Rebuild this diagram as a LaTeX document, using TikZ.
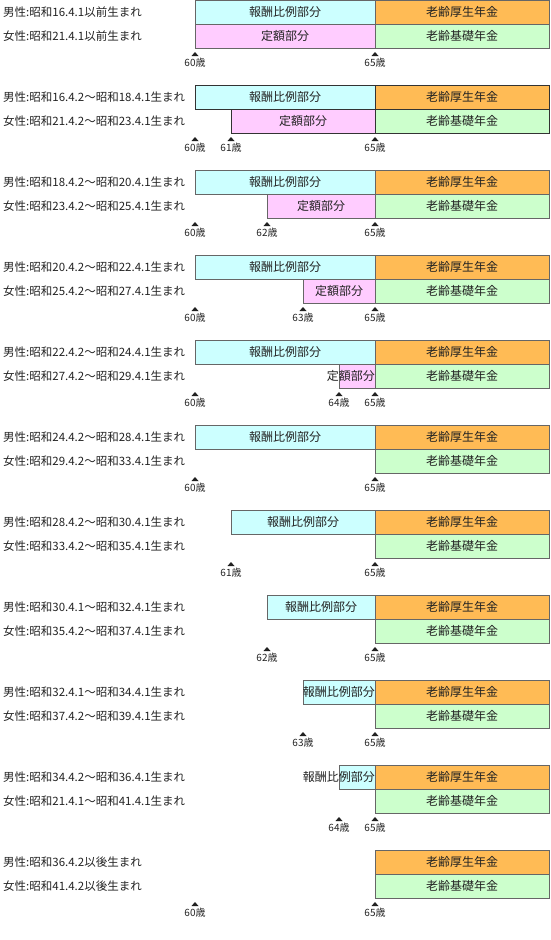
\documentclass[tikz,border=0pt]{standalone}
\usepackage{fontspec}
\setmainfont{Noto Sans CJK JP}
\definecolor{hoshu}{HTML}{CCFFFF}
\definecolor{teigaku}{HTML}{FFCCFF}
\definecolor{kosei}{HTML}{FFBB55}
\definecolor{kiso}{HTML}{CCFFCC}
\definecolor{bordg}{HTML}{666666}
\definecolor{bordd}{HTML}{333333}
\definecolor{txt}{HTML}{222222}
\def\bc{bordg}
\tikzset{
  box/.style={draw=\bc, line width=1pt, minimum height=24pt, inner sep=0pt, outer sep=0pt, anchor=north west},
  btext/.style={font=\fontsize{12}{14}\selectfont, text=txt, inner sep=0pt},
  side/.style={font=\fontsize{11.5}{14}\selectfont, text=txt, inner sep=0pt, anchor=west},
  age/.style={font=\fontsize{10}{12}\selectfont, text=txt, inner sep=0pt},
}
% group: index, male text, female text
\newcommand\grp[3]{%
  \pgfmathsetmacro\gT{85*#1}%
  \node[side] (m#1) at (3,{\gT+12}) {#2};
  \node[side] (f#1) at (3,{\gT+36}) {#3};
  \node[box, fill=kosei, minimum width=174pt] (k#1) at (375,\gT) {};
  \node[btext] (kt#1) at (k#1.center) {老齢厚生年金};
  \node[box, fill=kiso, minimum width=174pt] (b#1) at (375,{\gT+24}) {};
  \node[btext] (bt#1) at (b#1.center) {老齢基礎年金};
}
% cyan bar: index, start x, text placement (c = centred, r = right)
\newcommand\hoshubar[3]{%
  \pgfmathsetmacro\gT{85*#1}%
  \node[box, fill=hoshu, minimum width={(375-#2)*1pt}] (h#1) at (#2,\gT) {};
  \ifx c#3\node[btext] (ht#1) at (h#1.center) {報酬比例部分};
  \else\node[btext, anchor=east] (ht#1) at (h#1.east) {報酬比例部分};\fi
}
\newcommand\teibar[3]{%
  \pgfmathsetmacro\gT{85*#1}%
  \node[box, fill=teigaku, minimum width={(375-#2)*1pt}] (p#1) at (#2,{\gT+24}) {};
  \ifx c#3\node[btext] (pt#1) at (p#1.center) {定額部分};
  \else\node[btext, anchor=east] (pt#1) at (p#1.east) {定額部分};\fi
}
% tick: name, x, group index, label
\newcommand\agetick[4]{%
  \pgfmathsetmacro\gT{85*#3}%
  \fill[txt] ({#2-3.5},{\gT+56}) -- (#2,{\gT+52}) -- ({#2+3.5},{\gT+56}) -- cycle;
  \node[age] (#1) at (#2,{\gT+62.5}) {#4};
}
\begin{document}
\begin{tikzpicture}[x=1pt,y=-1pt]
\useasboundingbox (0,0) rectangle (550,940);
% 0
\grp{0}{男性:昭和16.4.1以前生まれ}{女性:昭和21.4.1以前生まれ}
\hoshubar{0}{195}{c}\teibar{0}{195}{c}
\agetick{a0a}{195}{0}{60歳}\agetick{a0b}{375}{0}{65歳}
% 1
\def\bc{bordd}
\grp{1}{男性:昭和16.4.2〜昭和18.4.1生まれ}{女性:昭和21.4.2〜昭和23.4.1生まれ}
\hoshubar{1}{195}{c}\teibar{1}{231}{c}
\def\bc{bordg}
\agetick{a1a}{195}{1}{60歳}\agetick{a1c}{231}{1}{61歳}\agetick{a1b}{375}{1}{65歳}
% 2
\grp{2}{男性:昭和18.4.2〜昭和20.4.1生まれ}{女性:昭和23.4.2〜昭和25.4.1生まれ}
\hoshubar{2}{195}{c}\teibar{2}{267}{c}
\agetick{a2a}{195}{2}{60歳}\agetick{a2c}{267}{2}{62歳}\agetick{a2b}{375}{2}{65歳}
% 3
\grp{3}{男性:昭和20.4.2〜昭和22.4.1生まれ}{女性:昭和25.4.2〜昭和27.4.1生まれ}
\hoshubar{3}{195}{c}\teibar{3}{303}{c}
\agetick{a3a}{195}{3}{60歳}\agetick{a3c}{303}{3}{63歳}\agetick{a3b}{375}{3}{65歳}
% 4
\grp{4}{男性:昭和22.4.2〜昭和24.4.1生まれ}{女性:昭和27.4.2〜昭和29.4.1生まれ}
\hoshubar{4}{195}{c}\teibar{4}{339}{r}
\agetick{a4a}{195}{4}{60歳}\agetick{a4c}{339}{4}{64歳}\agetick{a4b}{375}{4}{65歳}
% 5
\grp{5}{男性:昭和24.4.2〜昭和28.4.1生まれ}{女性:昭和29.4.2〜昭和33.4.1生まれ}
\hoshubar{5}{195}{c}
\agetick{a5a}{195}{5}{60歳}\agetick{a5b}{375}{5}{65歳}
% 6
\grp{6}{男性:昭和28.4.2〜昭和30.4.1生まれ}{女性:昭和33.4.2〜昭和35.4.1生まれ}
\hoshubar{6}{231}{c}
\agetick{a6a}{231}{6}{61歳}\agetick{a6b}{375}{6}{65歳}
% 7
\grp{7}{男性:昭和30.4.1〜昭和32.4.1生まれ}{女性:昭和35.4.2〜昭和37.4.1生まれ}
\hoshubar{7}{267}{c}
\agetick{a7a}{267}{7}{62歳}\agetick{a7b}{375}{7}{65歳}
% 8
\grp{8}{男性:昭和32.4.1〜昭和34.4.1生まれ}{女性:昭和37.4.2〜昭和39.4.1生まれ}
\hoshubar{8}{303}{r}
\agetick{a8a}{303}{8}{63歳}\agetick{a8b}{375}{8}{65歳}
% 9
\grp{9}{男性:昭和34.4.2〜昭和36.4.1生まれ}{女性:昭和21.4.1〜昭和41.4.1生まれ}
\hoshubar{9}{339}{r}
\agetick{a9a}{339}{9}{64歳}\agetick{a9b}{375}{9}{65歳}
% 10
\grp{10}{男性:昭和36.4.2以後生まれ}{女性:昭和41.4.2以後生まれ}
\agetick{a10a}{195}{10}{60歳}\agetick{a10b}{375}{10}{65歳}
\end{tikzpicture}
\end{document}
